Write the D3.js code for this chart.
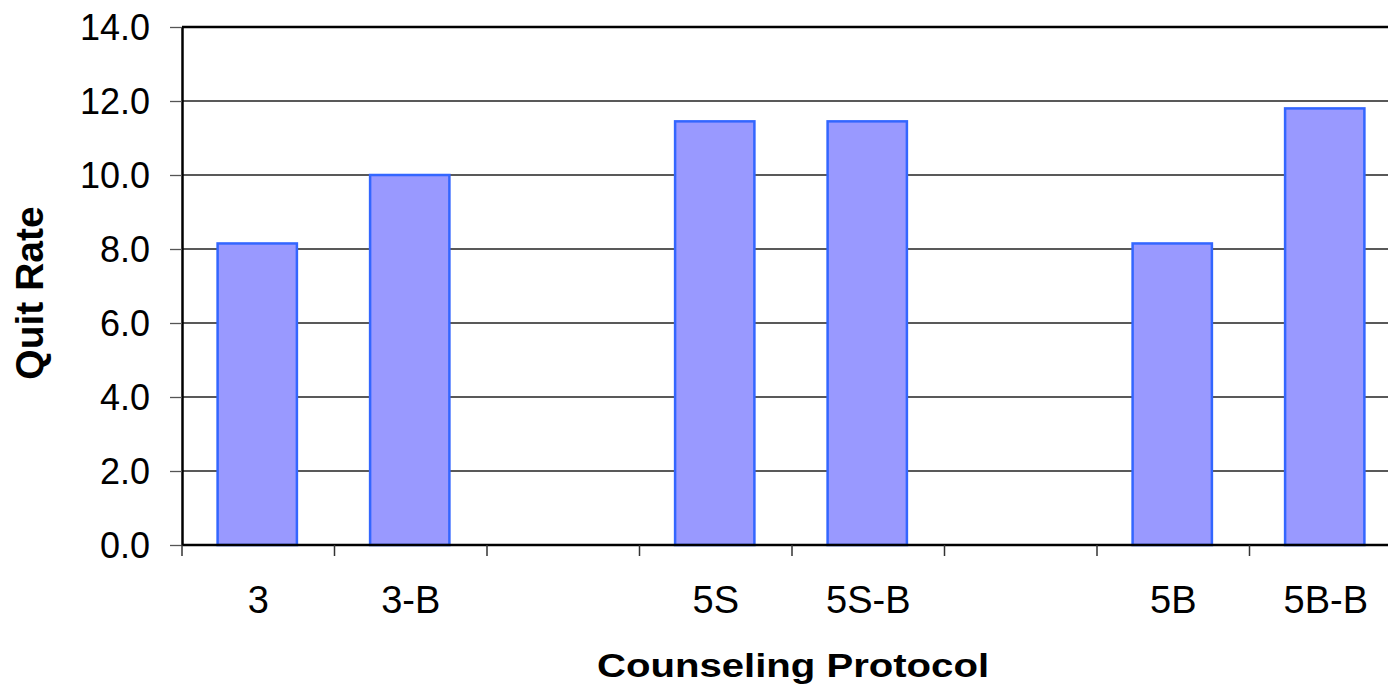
<!DOCTYPE html>
<html>
<head>
<meta charset="utf-8">
<script src="https://cdn.jsdelivr.net/npm/d3@7"></script>
<style>
    body { margin: 0; background: #fff; overflow: hidden; }
    svg { display: block; font-family: "Liberation Sans", Arial, sans-serif; }
</style>
</head>
<body>
<div id="chart"></div>
<script>
var categories = ["3", "3-B", "", "5S", "5S-B", "", "5B", "5B-B"];
var quitRates = [8.15, 10.0, null, 11.45, 11.45, null, 8.15, 11.8];
var yTicks = [0, 2, 4, 6, 8, 10, 12, 14];

var W = 1388, H = 686,
    margin = { top: 27, left: 182, bottom: 141 },
    plotW = 152.5 * categories.length,
    plotH = H - margin.top - margin.bottom;

var svg = d3.select("#chart")
    .append("svg")
    .attr("width", W)
    .attr("height", H);

var slots = categories.map(function (c, i) { return i; });

var x = d3.scaleBand()
    .domain(slots)
    .range([margin.left, margin.left + plotW])
    .padding(0);

var y = d3.scaleLinear()
    .domain([0, 14])
    .range([margin.top + plotH, margin.top]);

// gridlines
svg.append("g")
    .selectAll("line")
    .data(yTicks.slice(1))
    .enter()
    .append("line")
    .attr("x1", margin.left)
    .attr("x2", margin.left + plotW)
    .attr("y1", function (d) { return y(d); })
    .attr("y2", function (d) { return y(d); })
    .attr("stroke", function (d) { return d === 14 ? "#000" : "#222"; })
    .attr("stroke-width", function (d) { return d === 14 ? 2.5 : 1.3; });

// bars
var barW = x.bandwidth() * 0.52;
svg.append("g")
    .selectAll("rect")
    .data(quitRates.map(function (v, i) { return { i: i, v: v }; }).filter(function (d) { return d.v !== null; }))
    .enter()
    .append("rect")
    .attr("x", function (d) { return x(d.i) + (x.bandwidth() - barW) / 2 - 1; })
    .attr("y", function (d) { return y(d.v); })
    .attr("width", barW)
    .attr("height", function (d) { return y(0) - y(d.v); })
    .attr("fill", "#9999FF")
    .attr("stroke", "#3366FF")
    .attr("stroke-width", 2.5);

// y axis
var yAxis = svg.append("g")
    .attr("transform", "translate(" + margin.left + ",0)")
    .call(d3.axisLeft(y).tickValues(yTicks).tickFormat(d3.format(".1f")).tickSize(12).tickSizeOuter(0).tickPadding(20));
yAxis.select(".domain").attr("stroke", "#000").attr("stroke-width", 2.5);
yAxis.selectAll(".tick line").attr("stroke", "#555").attr("stroke-width", 1.3);
yAxis.selectAll("text")
    .attr("font-size", 36)
    .attr("fill", "#000")
    .attr("dy", "0.35em")
    .attr("font-family", "Liberation Sans, Arial, sans-serif");

// x axis: ticks on slot boundaries, labels centred
var xAxis = svg.append("g")
    .attr("transform", "translate(0," + y(0) + ")");
xAxis.append("line")
    .attr("x1", margin.left)
    .attr("x2", margin.left + plotW)
    .attr("stroke", "#000")
    .attr("stroke-width", 2.5);
xAxis.selectAll("line.tk")
    .data(slots.concat([categories.length]))
    .enter()
    .append("line")
    .attr("class", "tk")
    .attr("x1", function (d) { return margin.left + d * x.step(); })
    .attr("x2", function (d) { return margin.left + d * x.step(); })
    .attr("y1", 0)
    .attr("y2", 11)
    .attr("stroke", "#333")
    .attr("stroke-width", 1.5);
xAxis.selectAll("text")
    .data(categories)
    .enter()
    .append("text")
    .text(function (d) { return d; })
    .attr("x", function (d, i) { return x(i) + x.bandwidth() / 2; })
    .attr("y", 68)
    .attr("text-anchor", "middle")
    .attr("font-size", 38)
    .attr("fill", "#000");

// axis titles
svg.append("text")
    .text("Quit Rate")
    .attr("transform", "translate(43,293) rotate(-90)")
    .attr("text-anchor", "middle")
    .attr("font-size", 39)
    .attr("font-weight", "bold");

svg.append("text")
    .text("Counseling Protocol")
    .attr("transform", "translate(793,677) scale(1.18,1)")
    .attr("text-anchor", "middle")
    .attr("font-size", 34)
    .attr("font-weight", "bold");
</script>
</body>
</html>
